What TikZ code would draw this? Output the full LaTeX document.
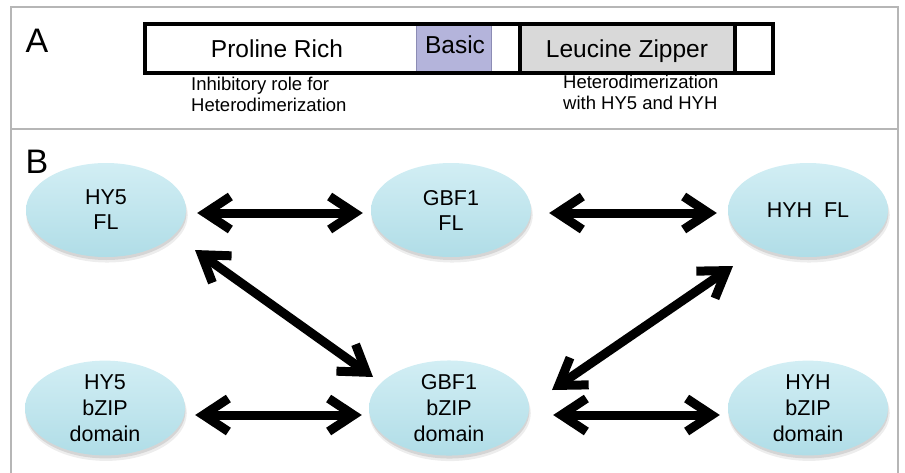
\documentclass[tikz,border=0pt]{standalone}
\usepackage{fontspec}
\setmainfont{Liberation Sans}
\usetikzlibrary{arrows.meta,shapes.geometric,shadows}
\definecolor{panelgray}{RGB}{182,182,182}
\definecolor{basicfill}{RGB}{180,180,219}
\definecolor{basicline}{RGB}{140,140,180}
\definecolor{lzfill}{RGB}{217,217,217}
\definecolor{elltop}{RGB}{210,238,244}
\definecolor{ellbot}{RGB}{176,221,231}
\tikzset{
  panel/.style={draw=panelgray, line width=2pt},
  barline/.style={draw=black, line width=3.6pt},
  domtext/.style={font=\fontsize{24.5}{28}\selectfont, inner sep=0pt, anchor=base},
  note/.style={font=\fontsize{18.5}{21}\selectfont, inner sep=0pt, align=left, anchor=north west},
  letter/.style={font=\fontsize{34}{38}\selectfont, inner sep=0pt, anchor=base},
  prot/.style={ellipse, minimum width=160pt, minimum height=94pt, inner sep=0pt,
    top color=elltop, bottom color=ellbot, align=center,
    general shadow={shadow xshift=1pt, shadow yshift=-5pt, shadow scale=1.01, opacity=0.07, fill=black},
    drop shadow={shadow xshift=0.5pt, shadow yshift=-3pt, opacity=0.10, fill=black}},
  protA/.style={prot, font=\fontsize{21.5}{25}\selectfont},
  protB/.style={prot, font=\fontsize{21.5}{26}\selectfont},
  biarrow/.style={line width=9pt, line cap=round, line join=round,
    {Straight Barb[length=25pt,width=33pt]}-{Straight Barb[length=25pt,width=33pt]}}
}
\begin{document}
\begin{tikzpicture}[x=1pt,y=-1pt]
\useasboundingbox (0,0) rectangle (905,472);
% panel frame
\draw[panel] (11,480) -- (11,7) -- (898,7) -- (898,480);
\draw[panel] (11,129) -- (898,129);
% panel A
\node[letter] (lA) at (37,52) {A};
\draw[barline, fill=white] (145,24) rectangle (773,73);
\draw[draw=basicline, line width=0.8pt, fill=basicfill] (416,25.8) rectangle (491,71.2);
\draw[barline, fill=lzfill] (520,24) rectangle (735,73);
\draw[barline] (145,24) rectangle (773,73);
\node[domtext] (pro) at (277,57) {Proline Rich};
\node[domtext] (bas) at (455,53) {Basic};
\node[domtext] (lz) at (627,57) {Leucine Zipper};
\node[note] (n1) at (191,77) {Inhibitory role for\\Heterodimerization};
\node[note] (n2) at (563,75) {Heterodimerization\\with HY5 and HYH};
% panel B
\node[letter] (lB) at (37,173) {B};
\node[protA] (hy5fl) at (106,210) {HY5\\FL};
\node[protA] (gbf1fl) at (451,210) {GBF1\\FL};
\node[protA] (hyhfl) at (808,210) {HYH\ \ FL};
\node[protB] (hy5b) at (105,408) {HY5\\bZIP\\domain};
\node[protB] (gbf1b) at (449,408) {GBF1\\bZIP\\domain};
\node[protB] (hyhb) at (808,408) {HYH\\bZIP\\domain};
\coordinate (l1) at (195,250);
\coordinate (l2) at (373,377);
\coordinate (r1) at (733,266);
\coordinate (r2) at (552,390);
\draw[biarrow, shorten <=11pt, shorten >=8pt] ([yshift=-3pt]hy5fl.east) -- ([yshift=-3pt]gbf1fl.west);
\draw[biarrow, shorten <=18pt, shorten >=11pt] ([yshift=-3pt]gbf1fl.east) -- ([yshift=-3pt]hyhfl.west);
\draw[biarrow, shorten <=10pt, shorten >=7pt] ([yshift=-7pt]hy5b.east) -- ([yshift=-7pt]gbf1b.west);
\draw[biarrow, shorten <=24pt, shorten >=8pt] ([yshift=-7pt]gbf1b.east) -- ([yshift=-7pt]hyhb.west);
\draw[biarrow] (l1) -- (l2);
\draw[biarrow] (r1) -- (r2);
\end{tikzpicture}
\end{document}
